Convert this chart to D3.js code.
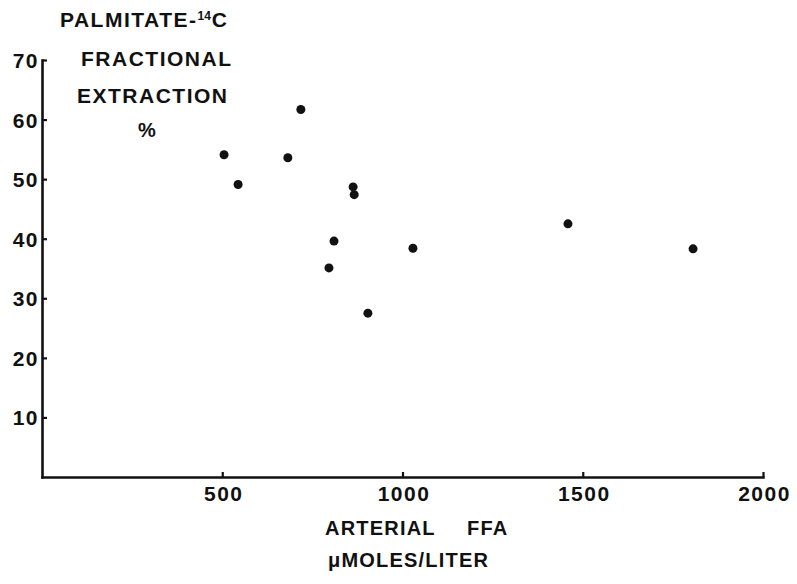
<!DOCTYPE html>
<head>
  <meta charset="utf-8">
  <script src="https://d3js.org/d3.v7.min.js"></script>
  <style>
    body { margin:0; background:#fff; }
    text { font-family: "Liberation Sans", Arial, sans-serif; font-weight: bold; fill:#111; }
  </style>
</head>
<body>
  <svg id="svgelem" width="797" height="584"></svg>
  <script>
    // arterial FFA (umol/l) vs palmitate-14C fractional extraction (%)
    var ffa        = [505, 544, 682, 718, 796, 810, 863, 866, 904, 1029, 1459, 1806];
    var extraction = [54.1, 49.1, 53.6, 61.7, 35.1, 39.6, 48.7, 47.4, 27.5, 38.4, 42.5, 38.3];
    var xTicks = [500, 1000, 1500, 2000];
    var yTicks = [10, 20, 30, 40, 50, 60, 70];

    var points = ffa.map(function(d, i) { return {x: d, y: extraction[i]}; });

    var svg = d3.select("#svgelem");
    var x = d3.scaleLinear().domain([0, 2000]).range([42, 763]);
    var y = d3.scaleLinear().domain([0, 70]).range([477, 60]);

    var xAxis = d3.axisBottom(x).tickValues(xTicks).tickFormat(d3.format("d"))
      .tickSizeInner(-5).tickSizeOuter(0).tickPadding(9);
    var yAxis = d3.axisLeft(y).tickValues(yTicks).tickFormat(d3.format("d"))
      .tickSizeInner(-5).tickSizeOuter(0).tickPadding(3);

    var gx = svg.append("g").attr("transform", "translate(0," + y(0) + ")").call(xAxis);
    var gy = svg.append("g").attr("transform", "translate(" + x(0) + ",0)").call(yAxis);

    [gx, gy].forEach(function(g) {
      g.select(".domain").attr("stroke", "#111").attr("stroke-width", 2.6).attr("stroke-linecap", "square");
      g.selectAll(".tick line").attr("stroke", "#111").attr("stroke-width", 2.2);
      g.selectAll(".tick text").style("font-size", "21px").style("font-family", "Liberation Sans, Arial, sans-serif")
        .style("font-weight", "bold").style("letter-spacing", "1.5px").attr("fill", "#111");
    });
    gy.selectAll(".tick text").attr("dy", "0.36em");
    gx.selectAll(".tick text").attr("dx", "1px");

    svg.selectAll("circle.pt")
      .data(points)
      .enter()
      .append("circle")
      .attr("class", "pt")
      .attr("cx", function(d) { return x(d.x); })
      .attr("cy", function(d) { return y(d.y); })
      .attr("r", 4.5)
      .attr("fill", "#111");

    // y title block
    var yt = svg.append("g").style("font-size", "21px").style("letter-spacing", "1.5px");
    var t1 = yt.append("text").attr("x", 60).attr("y", 27);
    t1.append("tspan").text("PALMITATE-");
    t1.append("tspan").text("14").style("font-size", "12px").style("letter-spacing", "0px").attr("dy", -7);
    t1.append("tspan").text("C").attr("dy", 7).attr("dx", 1);
    yt.append("text").attr("x", 81).attr("y", 66).text("FRACTIONAL");
    yt.append("text").attr("x", 77).attr("y", 103).text("EXTRACTION");
    yt.append("text").attr("x", 138).attr("y", 137).style("font-size", "20px").text("%");

    // x title
    var xt = svg.append("g").style("font-size", "20px").style("letter-spacing", "1.2px");
    xt.append("text").attr("x", 325).attr("y", 535).text("ARTERIAL");
    xt.append("text").attr("x", 467).attr("y", 535).text("FFA");
    xt.append("text").attr("x", 328).attr("y", 567).text("\u03bcMOLES/LITER");
  </script>
</body>
